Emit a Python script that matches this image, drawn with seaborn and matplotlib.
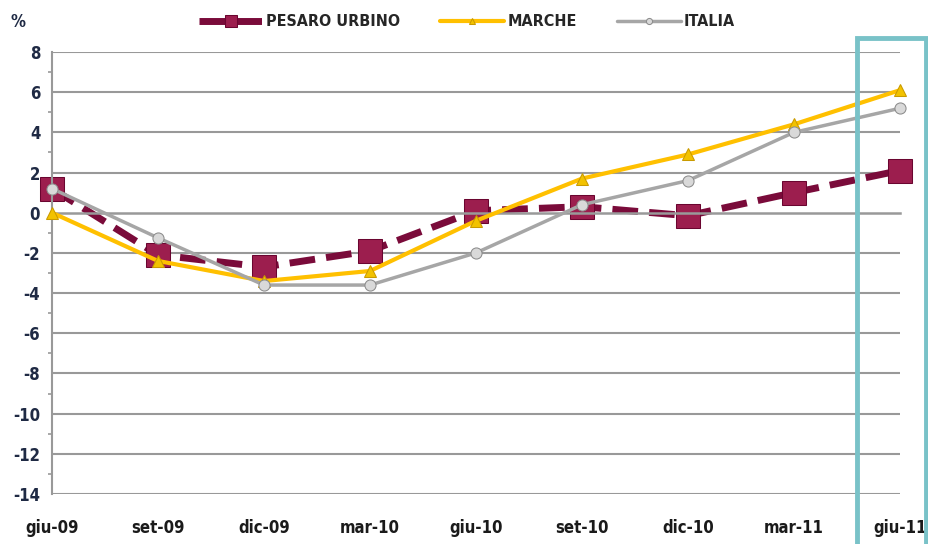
import numpy as np
import pandas as pd
import matplotlib
matplotlib.use("Agg")
import matplotlib.pyplot as plt
import seaborn as sns
from matplotlib.patches import Rectangle
from matplotlib.ticker import MultipleLocator

# Data
periods = ["giu-09", "set-09", "dic-09", "mar-10", "giu-10", "set-10", "dic-10", "mar-11", "giu-11"]
pesaro = [1.2, -2.1, -2.7, -1.9, 0.1, 0.3, -0.15, 1.0, 2.1]
marche = [0.0, -2.4, -3.4, -2.9, -0.4, 1.7, 2.9, 4.4, 6.1]
italia = [1.2, -1.25, -3.6, -3.6, -2.0, 0.4, 1.6, 4.0, 5.2]
yticks = list(range(-14, 9, 2))

sns.set_style("white")
plt.rcParams['font.family'] = ['DejaVu Sans']
plt.rcParams['font.stretch'] = 'condensed'
plt.rcParams['axes.unicode_minus'] = False

fig = plt.figure(figsize=(9.29, 5.44), dpi=100)
ax = fig.add_axes([52 / 929, 1 - 494 / 544, 848 / 929, 442 / 544])

df = pd.DataFrame({"period": periods, "PESARO URBINO": pesaro,
                   "MARCHE": marche, "ITALIA": italia})

sns.lineplot(data=df, x="period", y="MARCHE", ax=ax, color="#FFC000", lw=3,
             marker="^", markersize=9, markerfacecolor="#F2C200",
             markeredgecolor="#C99A00", label="MARCHE", zorder=3, clip_on=False)
sns.lineplot(data=df, x="period", y="ITALIA", ax=ax, color="#A6A6A6", lw=2.5,
             marker="o", markersize=8, markerfacecolor="#D9D9D9",
             markeredgecolor="#8C8C8C", label="ITALIA", zorder=4, clip_on=False)
sns.lineplot(data=df, x="period", y="PESARO URBINO", ax=ax, color="#7A0B3A", lw=5,
             dashes=(3, 1.6), linestyle="--", marker="s", markersize=17,
             markerfacecolor="#9C1E4E", markeredgecolor="#6A0530",
             label="PESARO URBINO", zorder=2, clip_on=False)

ax.set_xlim(0, len(periods) - 1)
ax.set_ylim(-14, 8)
ax.set_yticks(yticks)
ax.yaxis.set_minor_locator(MultipleLocator(1))
ax.set_xlabel("")
ax.set_ylabel("")

for y in yticks:
    if y != 0:
        ax.axhline(y, color="#999999", lw=1.5, zorder=0)

# x axis drawn at zero, labels at the bottom
ax.spines["bottom"].set_position(("data", 0))
ax.spines["bottom"].set_color("#999999")
ax.spines["bottom"].set_linewidth(1.8)
ax.spines["left"].set_color("#999999")
ax.spines["left"].set_linewidth(1.5)
ax.spines["top"].set_visible(False)
ax.spines["right"].set_visible(False)
ax.tick_params(axis="x", direction="inout", length=10, width=1.5, color="#999999",
               labelbottom=False)
ax.tick_params(axis="y", which="major", direction="out", length=5, width=1.5,
               color="#999999", labelsize=12, labelcolor="#1F2A44")
ax.tick_params(axis="y", which="minor", direction="out", length=3, width=1.2,
               color="#999999", left=True)
for lab in ax.get_yticklabels():
    lab.set_fontweight("bold")

xpos = np.arange(len(periods))
for xp, lab in zip(xpos, periods):
    ax.text(xp, -15.7, lab, ha="center", va="center", fontsize=12,
            fontweight="bold", color="#1A1A1A", clip_on=False)

fig.text(18 / 929, 1 - 22 / 544, "%", ha="center", va="center", fontsize=12,
         fontweight="bold", color="#1F2A44")

handles, labels = ax.get_legend_handles_labels()
order = [labels.index(n) for n in ["PESARO URBINO", "MARCHE", "ITALIA"]]
leg = fig.legend([handles[i] for i in order], [labels[i] for i in order],
                 loc="center", bbox_to_anchor=(467 / 929, 1 - 22 / 544), ncol=3,
                 frameon=False, fontsize=11.5, handlelength=4, columnspacing=2.5,
                 handletextpad=0.2, markerscale=0.55)
for t in leg.get_texts():
    t.set_fontweight("bold")
if ax.get_legend() is not None:
    ax.get_legend().remove()

# highlight box around the last period
fig.add_artist(Rectangle((857 / 929, -0.05), 69 / 929, 1 - 38 / 544 + 0.05,
                         transform=fig.transFigure, fill=False,
                         edgecolor="#79C2C8", lw=3.5, clip_on=False))

fig.savefig("out.png", dpi=100)
